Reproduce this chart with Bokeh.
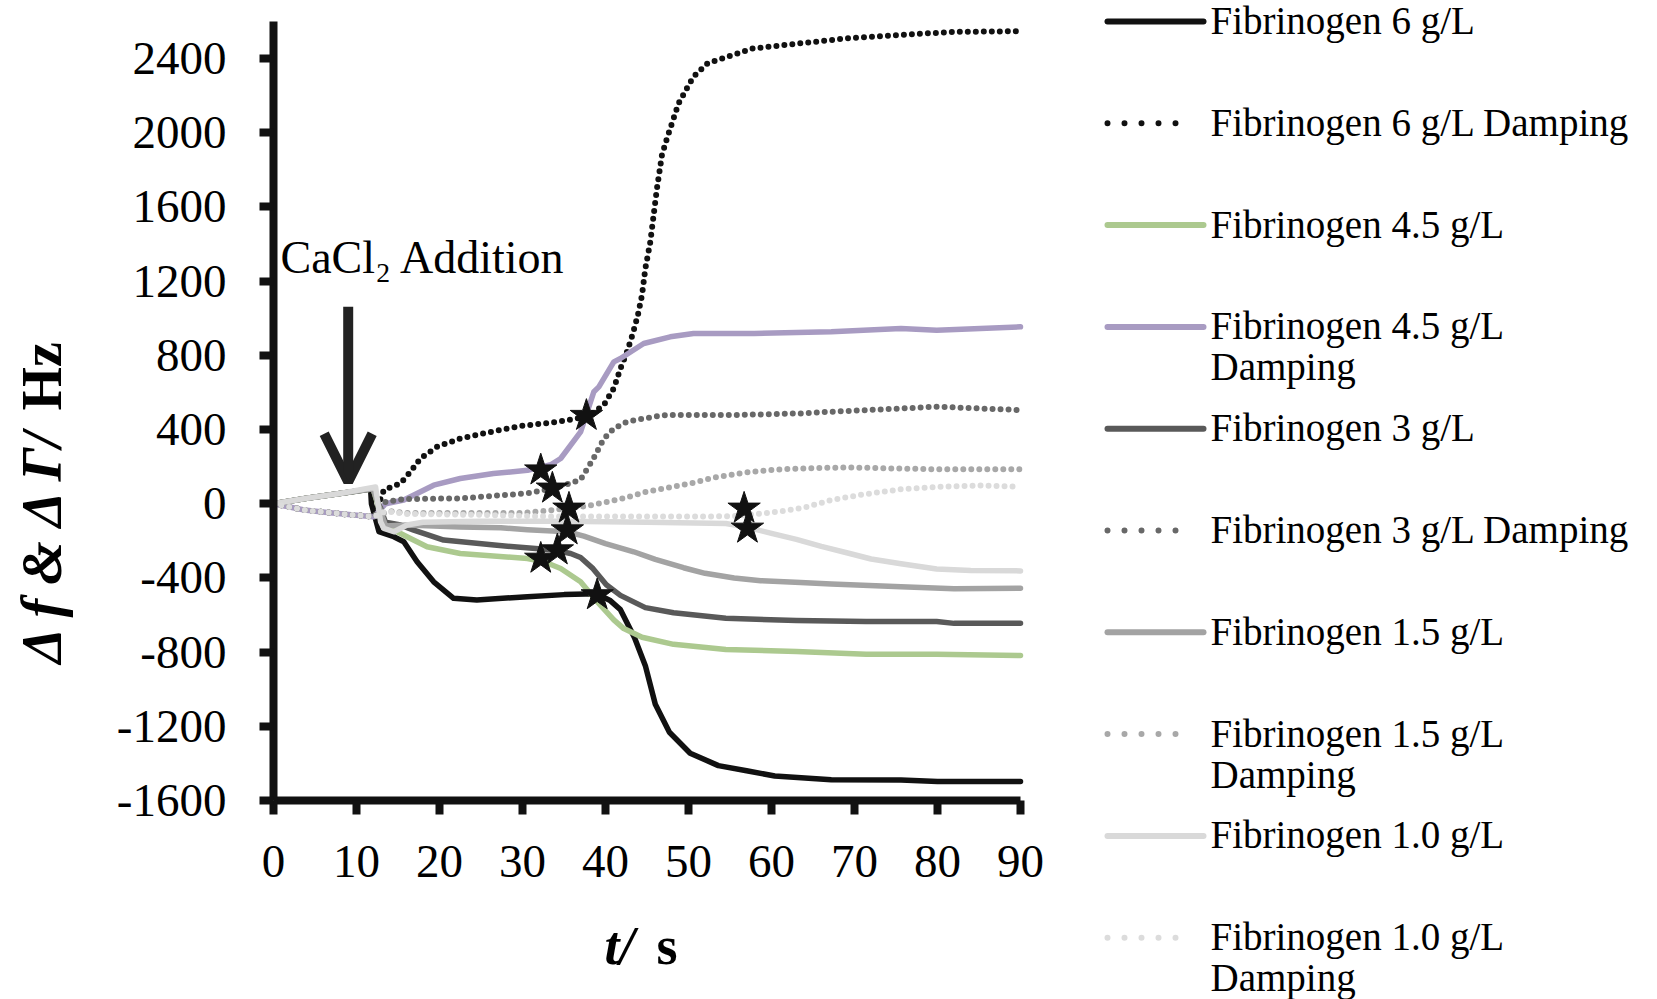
import math
from bokeh.plotting import figure
from bokeh.models import Range1d, FixedTicker, Arrow, OpenHead, ColumnDataSource, LinearAxis
from bokeh.embed import file_html
from bokeh.resources import INLINE
from bokeh.core.properties import value

FONT = "Liberation Serif"

# ---------------- data ----------------
x_ticks = [0, 10, 20, 30, 40, 50, 60, 70, 80, 90]
y_ticks = [-1600, -1200, -800, -400, 0, 400, 800, 1200, 1600, 2000, 2400]

t_6 = [0, 4, 8, 11.7, 11.8, 12.7, 14.5, 15.7, 17.3, 19.3, 21.7, 24.5, 30.6, 35, 38.9, 40.5, 41.8, 43.5, 44.8, 46, 47.7, 50.2, 53.6, 57, 60.4, 67.2, 75.6, 80, 90]
v_6 = [0, 30, 55, 80, 0, -150, -178, -205, -313, -421, -510, -519, -501, -490, -485, -520, -571, -722, -873, -1081, -1232, -1345, -1412, -1440, -1468, -1488, -1490, -1497, -1497]

t_6d = [0, 3.7, 6.5, 9.7, 12.1, 13.3, 15.3, 16.5, 17.7, 19.7, 22.5, 27, 30, 34, 37.8, 39.8, 41.0, 41.8, 42.6, 43.3, 43.9, 44.4, 44.8, 45.4, 45.8, 46.2, 46.8, 47.4, 48.2, 48.8, 49.8, 50.6, 52.3, 57.7, 63, 69.3, 75.6, 82, 90]
v_6d = [0, -34, -47, -61, -70, 74, 110, 172, 244, 307, 352, 395, 420, 440, 469, 532, 622, 729, 820, 918, 1017, 1125, 1268, 1412, 1556, 1700, 1880, 1969, 2077, 2158, 2239, 2302, 2374, 2454, 2480, 2510, 2528, 2544, 2548]

t_45 = [0, 4, 8, 12, 13.3, 16.5, 18.5, 22.5, 30.6, 32.6, 34.6, 37, 39, 41, 42.2, 44.4, 48.2, 54.5, 63, 71.4, 79.9, 90]
v_45 = [0, 30, 55, 80, -115, -187, -232, -268, -295, -313, -349, -421, -528, -626, -673, -720, -758, -786, -796, -811, -811, -818]

t_45d = [0, 3.7, 6.5, 9.7, 12.1, 13.5, 15.7, 19.3, 22.5, 26.5, 30.6, 33.4, 34.6, 37, 38.6, 39.2, 41.0, 41.8, 44.6, 47.8, 50.6, 57.9, 67.2, 75.6, 79.9, 90]
v_45d = [0, -34, -47, -61, -70, 0, 20, 100, 136, 163, 180, 210, 244, 388, 604, 630, 765, 783, 864, 900, 918, 918, 927, 945, 936, 954]

t_3 = [0, 4, 8, 12, 13.5, 15.3, 16.9, 20.5, 26.6, 33.8, 35.8, 37, 38.5, 40.1, 41.8, 44.8, 48.2, 54.5, 63, 71.4, 79.9, 82, 90]
v_3 = [0, 30, 55, 80, -100, -115, -142, -196, -223, -250, -268, -290, -350, -437, -494, -560, -588, -617, -630, -635, -635, -645, -645]

t_3d = [0, 3.7, 6.5, 9.7, 12.1, 13.5, 15.7, 22.5, 30.6, 33.4, 35.4, 37, 38.5, 39.8, 41, 42.6, 45.8, 47.4, 55.5, 63.5, 67.2, 79.9, 90]
v_3d = [0, -34, -47, -61, -70, 10, 25, 29, 56, 80, 105, 130, 240, 350, 405, 442, 469, 478, 478, 487, 496, 523, 505]

t_15 = [0, 4, 8, 12, 13.5, 16.1, 22.5, 27.4, 30.6, 35.4, 37.4, 40, 43.4, 46, 49.4, 52, 55.5, 58.7, 63.5, 67.2, 75.6, 82, 90]
v_15 = [0, 30, 55, 80, -120, -115, -125, -130, -140, -151, -175, -215, -259, -300, -345, -375, -400, -415, -425, -433, -447, -458, -456]

t_15d = [0, 3.7, 6.5, 9.7, 12.1, 14, 16, 25, 30, 33.4, 35.6, 38, 41.8, 45, 50.3, 53, 56.6, 60.8, 65, 69.3, 75, 80, 90]
v_15d = [0, -34, -47, -61, -70, -40, -50, -50, -50, -35, -25, -10, 25, 65, 110, 140, 167, 185, 192, 196, 190, 186, 186]

t_10 = [0, 4, 8, 12.3, 12.9, 13.3, 14.5, 16.1, 18, 25, 35, 45, 54.5, 57, 60, 63, 66, 69.3, 72, 75.6, 79.9, 84, 90]
v_10 = [0, 30, 55, 90, -97, -133, -151, -115, -100, -95, -95, -100, -107, -126, -160, -192, -230, -267, -298, -324, -352, -360, -362]

t_10d = [0, 3.7, 6.5, 9.7, 12.1, 13.5, 16, 25, 33.4, 45, 55, 57, 59.5, 62, 64, 67.2, 71, 75.6, 80, 85, 90]
v_10d = [0, -34, -47, -61, -70, -40, -55, -60, -69, -69, -68, -60, -50, -35, -20, 20, 50, 78, 91, 98, 92]

star_t = [37.7, 32.2, 33.6, 35.6, 35.4, 34.2, 32.2, 39.0, 56.7, 57.1]
star_v = [475, 181, 83, -25, -142, -250, -295, -492, -25, -133]

labels = ["Fibrinogen 6 g/L", "Fibrinogen 6 g/L Damping", "Fibrinogen 4.5 g/L",
          "Fibrinogen 4.5 g/L\nDamping", "Fibrinogen 3 g/L", "Fibrinogen 3 g/L Damping",
          "Fibrinogen 1.5 g/L", "Fibrinogen 1.5 g/L\nDamping", "Fibrinogen 1.0 g/L",
          "Fibrinogen 1.0 g/L\nDamping"]
ts = [t_6, t_6d, t_45, t_45d, t_3, t_3d, t_15, t_15d, t_10, t_10d]
vs = [v_6, v_6d, v_45, v_45d, v_3, v_3d, v_15, v_15d, v_10, v_10d]
colors = ["#111111", "#111111", "#acc98f", "#a89bc2", "#595959", "#686868",
          "#a3a3a3", "#a8a8a8", "#d9d9d9", "#dcdcdc"]
dotted = [False, True, False, False, False, True, False, True, False, True]

# ---------------- layout (pixels of the 1657x999 page) ----------------
W, H = 1657, 999
PX_T0, PX_T90 = 273, 1020          # frame x of t=0 and t=90
PY_TOP, PY_BOT = 21, 800           # frame y of v=2600 and v=-1600
T_MIN, T_MAX = 0, 90
V_MIN, V_MAX = -1600, 2600
SX = (PX_T90 - PX_T0) / (T_MAX - T_MIN)
SY = (PY_BOT - PY_TOP) / (V_MAX - V_MIN)


def tx(px):
    return T_MIN + (px - PX_T0) / SX


def vy(py):
    return V_MAX - (py - PY_TOP) / SY


p = figure(width=W, height=H, x_range=Range1d(tx(0), tx(W)), y_range=Range1d(vy(H), vy(0)),
           output_backend="svg", toolbar_location=None, min_border=0,
           x_axis_location=None, y_axis_location=None)
p.xgrid.visible = False
p.ygrid.visible = False
p.outline_line_color = None
p.background_fill_color = "white"
p.border_fill_color = "white"

for t, v, c, d in zip(ts, vs, colors, dotted):
    if d:
        p.line(t, v, line_color=c, line_width=6, line_dash="0 8", line_cap="round")
    else:
        p.line(t, v, line_color=c, line_width=5.5, line_join="round", line_cap="round")

p.scatter(star_t, star_v, marker="star", size=34, fill_color="#111111", line_color="#111111")

xaxis = LinearAxis(fixed_location=V_MIN, bounds=(T_MIN, T_MAX), ticker=FixedTicker(ticks=x_ticks))
yaxis = LinearAxis(fixed_location=T_MIN, bounds=(V_MIN, V_MAX), ticker=FixedTicker(ticks=y_ticks),
                   major_label_overrides={float(k): str(k) for k in y_ticks})
for ax in (xaxis, yaxis):
    ax.axis_line_width = 8
    ax.axis_line_color = "#111111"
    ax.major_tick_line_width = 8
    ax.major_tick_line_color = "#111111"
    ax.major_tick_out = 14
    ax.major_tick_in = 0
    ax.minor_tick_out = 0
    ax.minor_tick_in = 0
    ax.major_label_text_font = FONT
    ax.major_label_text_font_size = "47px"
    ax.major_label_text_color = "#000000"
xaxis.major_label_standoff = 31
yaxis.major_label_standoff = 33
p.add_layout(xaxis, "below")
p.add_layout(yaxis, "left")

# axis titles
p.text(x=[tx(41)], y=[vy(663)], text=["Δ f & Δ Γ/"], angle=math.pi / 2,
       text_font=value(FONT), text_font_size="56px", text_font_style="bold italic",
       text_align="left", text_baseline="middle", text_color="#000000")
p.text(x=[tx(41)], y=[vy(410)], text=["Hz"], angle=math.pi / 2,
       text_font=value(FONT), text_font_size="56px", text_font_style="bold",
       text_align="left", text_baseline="middle", text_color="#000000")
p.text(x=[tx(604)], y=[vy(945)], text=["t/"], text_font=value(FONT), text_font_size="54px",
       text_font_style="bold italic", text_align="left", text_baseline="middle",
       text_color="#000000")
p.text(x=[tx(656)], y=[vy(945)], text=["s"], text_font=value(FONT), text_font_size="54px",
       text_font_style="bold", text_align="left", text_baseline="middle",
       text_color="#000000")

# CaCl2 annotation with arrow
ARROW_T = 9.0
ARROW_TOP = 1062
ARROW_TIP = 119
p.add_layout(Arrow(end=OpenHead(size=48, line_width=10, line_color="#222222"),
                   x_start=ARROW_T, y_start=ARROW_TOP, x_end=ARROW_T, y_end=ARROW_TIP,
                   line_width=10, line_color="#222222"))
p.text(x=[tx(280)], y=[vy(257)], text=["CaCl₂ Addition"], text_font=value(FONT),
       text_font_size="46px", text_align="left", text_baseline="middle", text_color="#000000")

# ---------------- legend ----------------
ROW0, ROWH, LINE2 = 21, 101.8, 41
LX0, LX1, LXD, LTX = 1107, 1203, 1192, 1210
ltx, lty, ltt = [], [], []
for i, (lab, c, d) in enumerate(zip(labels, colors, dotted)):
    py = ROW0 + i * ROWH
    if d:
        p.line([tx(LX0), tx(LXD)], [vy(py), vy(py)], line_color=c, line_width=6,
               line_dash="0 17", line_cap="round")
    else:
        p.line([tx(LX0), tx(LX1)], [vy(py), vy(py)], line_color=c, line_width=6, line_cap="round")
    for j, part in enumerate(lab.split("\n")):
        ltx.append(tx(LTX))
        lty.append(vy(py - 1 + j * LINE2))
        ltt.append(part)

p.text(x="x", y="y", text="text", source=ColumnDataSource(dict(x=ltx, y=lty, text=ltt)),
       text_font=value(FONT), text_font_size="39px", text_baseline="middle",
       text_align="left", text_color="#000000")

open("out.html", "w").write(file_html(p, INLINE))
